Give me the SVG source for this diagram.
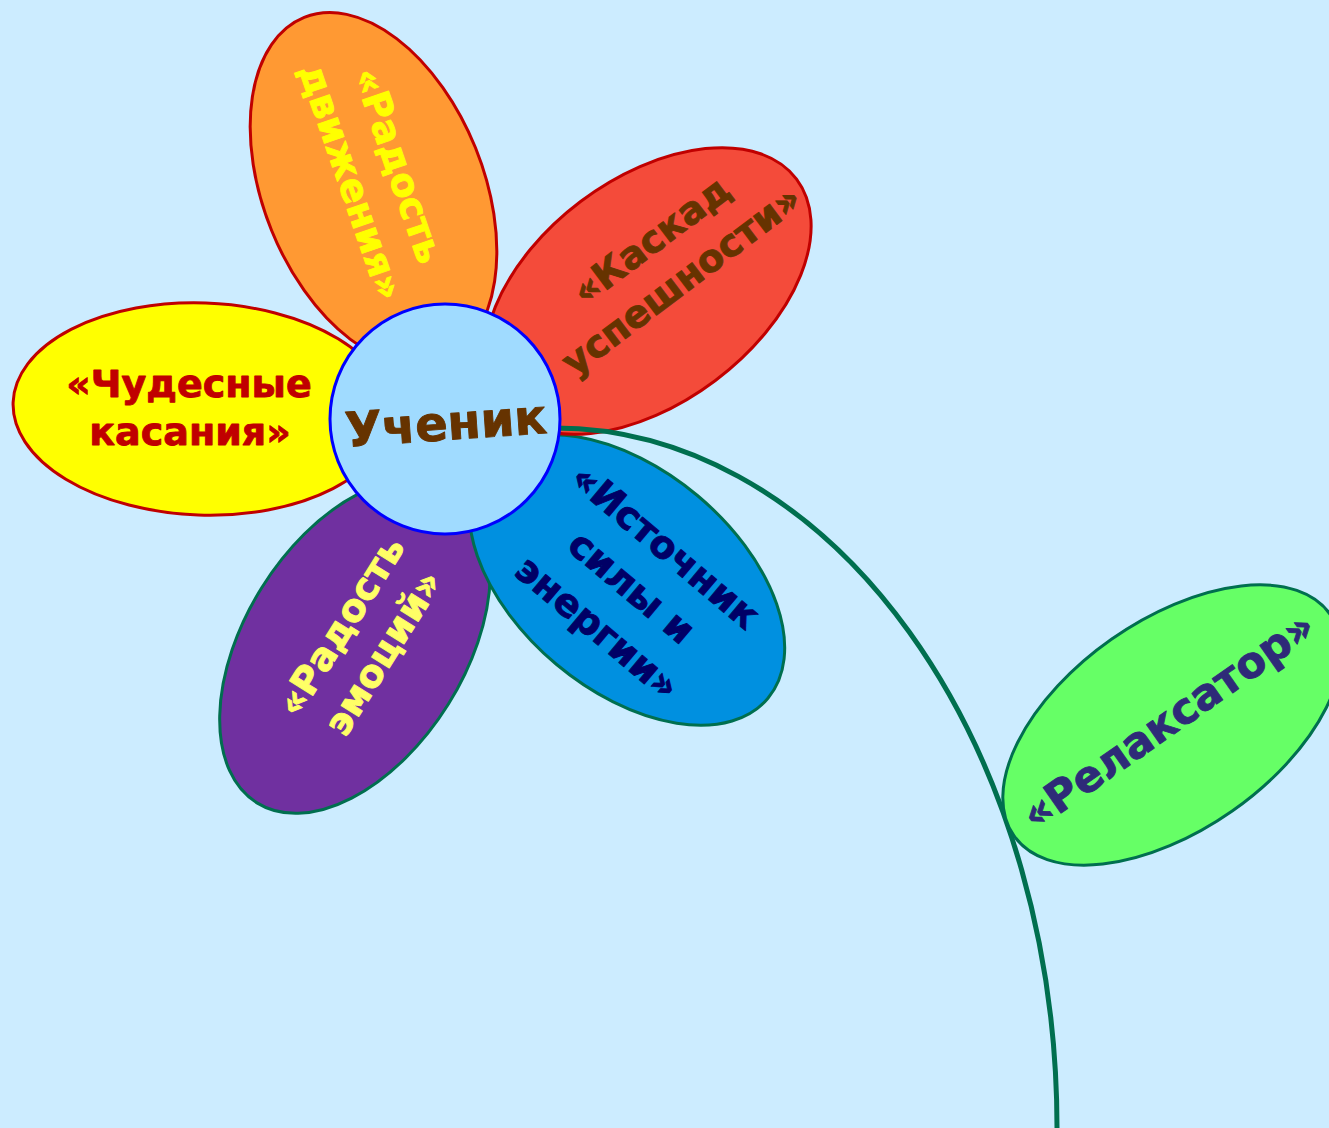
<svg xmlns="http://www.w3.org/2000/svg" width="1329" height="1128" viewBox="0 0 1329 1128">
<style>
.lbl{font-family:"DejaVu Sans","Liberation Sans",Verdana,sans-serif;font-weight:bold;font-size:38px;text-anchor:middle;stroke-width:0.9px;stroke-linejoin:round}
.rs{stroke:#C00000;stroke-width:3}
.gs{stroke:#006F4F;stroke-width:3}
</style>
<rect width="1329" height="1128" fill="#CCECFF"/>
<g id="petal-emotions">
<ellipse cx="355" cy="646" rx="185" ry="110" transform="rotate(-58 355 646)" fill="#7030A0" class="gs"/>
<g transform="translate(363,640) rotate(-58)" fill="#FFFF66" stroke="#FFFF66"><text class="lbl" x="0" y="-13">«Радость</text><text class="lbl" x="0" y="37">эмоций»</text></g>
</g>
<g id="petal-source">
<ellipse cx="627" cy="580" rx="184" ry="110" transform="rotate(40 627 580)" fill="#0090E0" class="gs"/>
<g transform="translate(631,588) rotate(40)" fill="#000066" stroke="#000066"><text class="lbl" x="0" y="-41">«Источник</text><text class="lbl" x="0" y="12">силы и</text><text class="lbl" x="0" y="65">энергии»</text></g>
</g>
<g id="petal-touch">
<ellipse cx="202" cy="409" rx="189" ry="106" transform="rotate(2 202 409)" fill="#FFFF00" class="rs"/>
<g fill="#C00000" stroke="#C00000"><text class="lbl" x="189" y="397">«Чудесные</text>
<text class="lbl" x="190" y="445">касания»</text></g>
</g>
<g id="petal-success">
<ellipse cx="648" cy="291" rx="186" ry="112" transform="rotate(-37 648 291)" fill="#F44B3A" class="rs"/>
<g transform="translate(667,261) rotate(-37)" fill="#663300" stroke="#663300"><text class="lbl" x="0" y="-13">«Каскад</text><text class="lbl" x="0" y="37">успешности»</text></g>
</g>
<g id="petal-movement">
<ellipse cx="373.5" cy="189" rx="185" ry="110" transform="rotate(68 373.5 189)" fill="#FF9933" class="rs"/>
<g transform="translate(374,174) rotate(71)" fill="#FFFF00" stroke="#FFFF00"><text class="lbl" x="0" y="-13">«Радость</text><text class="lbl" x="0" y="37">движения»</text></g>
</g>
<g id="connectors">
<path d="M553,428 A502,700 0 0 1 1057,1128" fill="none" stroke="#006F4F" stroke-width="5"/>
</g>
<g id="center">
<circle cx="445" cy="419" r="115" fill="#A0DBFF" stroke="#0000FF" stroke-width="3"/>
<g transform="translate(446,425) rotate(-4)" fill="#663300" stroke="#663300"><text class="lbl" x="0" y="15" style="font-size:48px">Ученик</text></g>
</g>
<g id="leaf-relax">
<ellipse cx="1172" cy="725" rx="193" ry="105" transform="rotate(-35 1172 725)" fill="#66FF66" class="gs"/>
<g transform="translate(1168,720) rotate(-35)" fill="#2E2A78" stroke="#2E2A78"><text class="lbl" x="0" y="15" style="font-size:43px">«Релаксатор»</text></g>
</g>
</svg>
